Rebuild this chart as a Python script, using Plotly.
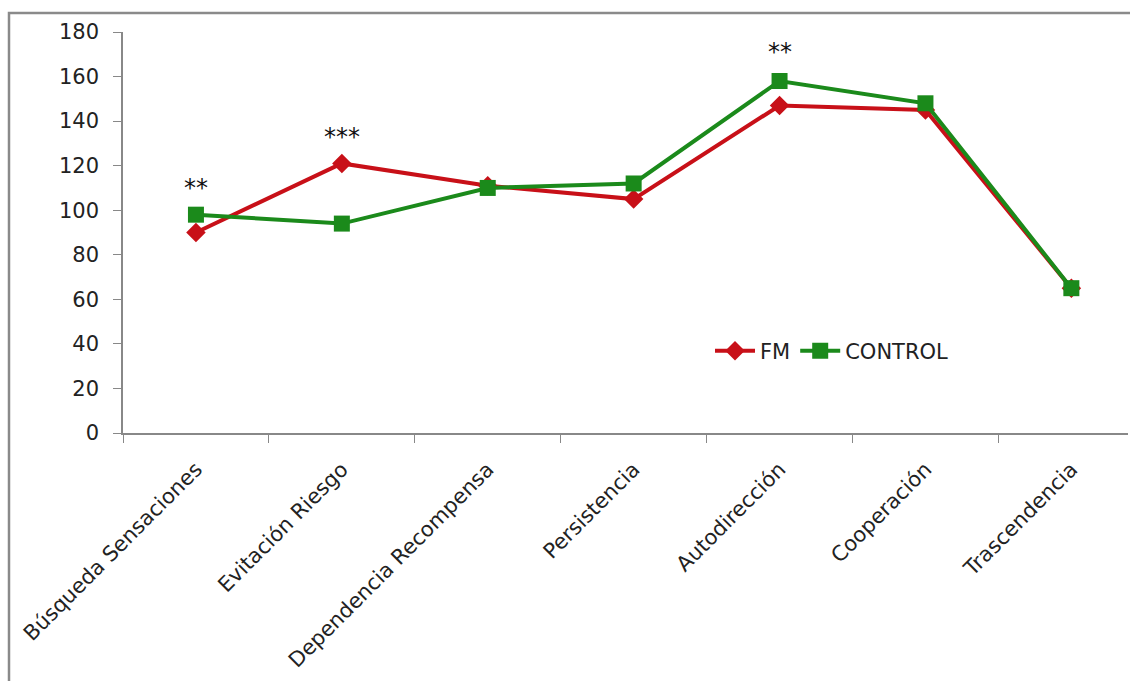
import plotly.graph_objects as go

categories = ["Búsqueda Sensaciones", "Evitación Riesgo", "Dependencia Recompensa",
              "Persistencia", "Autodirección", "Cooperación", "Trascendencia"]
fm = [90, 121, 111, 105, 147, 145, 65]
control = [98, 94, 110, 112, 158, 148, 65]
sig_cats = ["Búsqueda Sensaciones", "Evitación Riesgo", "Autodirección"]
sig_labels = ["**", "***", "**"]
sig_y = [110, 133, 171]

FONT = "DejaVu Sans"
W, H = 1130, 681
L, R, T, B = 123, 2, 32, 248
pw, ph = W - L - R, H - T - B

fig = go.Figure()
fig.add_trace(go.Scatter(x=categories, y=fm, name="FM", mode="lines+markers",
                         line=dict(color="#C81018", width=4),
                         marker=dict(symbol="diamond", size=15, color="#C81018")))
fig.add_trace(go.Scatter(x=categories, y=control, name="CONTROL", mode="lines+markers",
                         line=dict(color="#1B8A1B", width=4),
                         marker=dict(symbol="square", size=16, color="#1B8A1B")))

for c, t, yv in zip(sig_cats, sig_labels, sig_y):
    fig.add_annotation(x=c, y=yv, text=t, showarrow=False,
                       font=dict(size=24, color="#111", family=FONT))

def px_to_paper_x(px):
    return (px - L) / pw

def px_to_paper_y(py):
    return (H - B - py) / ph

fig.add_shape(type="rect", xref="paper", yref="paper",
              x0=px_to_paper_x(9), x1=px_to_paper_x(1200),
              y0=px_to_paper_y(760), y1=px_to_paper_y(13),
              line=dict(color="#8a8a8a", width=2.5), layer="below")

span = pw / 145.9
fig.update_layout(
    width=W, height=H,
    margin=dict(l=L, r=R, t=T, b=B, autoexpand=False),
    paper_bgcolor="white", plot_bgcolor="white",
    font=dict(family=FONT, size=21, color="#222"),
    showlegend=True,
    legend=dict(orientation="h", x=px_to_paper_x(710), y=px_to_paper_y(351),
                xanchor="left", yanchor="middle", bgcolor="rgba(0,0,0,0)",
                font=dict(size=21, family=FONT, color="#222"), itemwidth=40),
    xaxis=dict(type="category", range=[-0.5, -0.5 + span], tickson="boundaries",
               ticks="outside", ticklen=8, tickcolor="#888", showline=True,
               linecolor="#888", linewidth=1.5, tickangle=-45, showgrid=False,
               ticklabelstandoff=14,
               tickfont=dict(size=21, family=FONT, color="#222")),
    yaxis=dict(range=[0, 180], dtick=20, ticks="outside", ticklen=8, tickcolor="#888",
               showline=True, linecolor="#888", linewidth=1.5, showgrid=False,
               zeroline=False, ticklabelstandoff=10,
               tickfont=dict(size=21, family=FONT, color="#222")),
)
fig.write_html("out.html", config={"displayModeBar": False},
               post_script="document.body.style.margin='0';document.body.style.overflow='hidden';")
